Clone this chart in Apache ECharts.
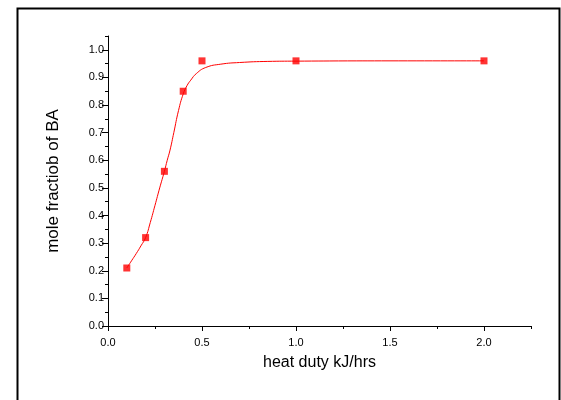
<!DOCTYPE html>
<html>
<head>
<meta charset="utf-8">
<script src="https://cdn.jsdelivr.net/npm/echarts@6/dist/echarts.min.js"></script>
<style>html,body{margin:0;padding:0;background:#fff;}#c{width:561px;height:400px;}</style>
</head>
<body>
<div id="c"></div>
<script>
// measured data points
var heatDuty = [0.1, 0.2, 0.3, 0.4, 0.5, 1.0, 2.0];
var moleFraction = [0.21, 0.32, 0.56, 0.85, 0.96, 0.96, 0.96];
// fitted curve
var fitX = [0.1, 0.125, 0.15, 0.175, 0.2, 0.225, 0.25, 0.275, 0.3, 0.315, 0.33, 0.35, 0.375, 0.4, 0.42, 0.44, 0.47, 0.52, 0.6, 0.7, 0.85, 1.0, 1.5, 2.0];
var fitY = [0.21, 0.236, 0.262, 0.29, 0.32, 0.375, 0.437, 0.50, 0.56, 0.60, 0.637, 0.70, 0.78, 0.84, 0.87, 0.89, 0.914, 0.936, 0.948, 0.954, 0.958, 0.959, 0.96, 0.96];
// tick labels
var xMajorTicks = [0, 0.5, 1.0, 1.5, 2.0];
var yMajorTicks = [0, 0.1, 0.2, 0.3, 0.4, 0.5, 0.6, 0.7, 0.8, 0.9, 1.0];
var xTitle = 'heat duty kJ/hrs';
var yTitle = 'mole fractiob of BA';

var FONT = 'Liberation Sans, Arial, sans-serif';
var chart = echarts.init(document.getElementById('c'), null, {renderer: 'canvas'});

function pairs(xs, ys) { return xs.map(function (x, i) { return [x, ys[i]]; }); }

var axisLineStyle = {color: '#000', width: 1};
chart.setOption({
  animation: false,
  backgroundColor: '#fff',
  graphic: [{
    type: 'rect', left: 15, top: 6, shape: {width: 542, height: 420},
    style: {fill: 'none', stroke: '#000', lineWidth: 2}, silent: true
  }],
  grid: {left: 108, right: 30, top: 36, bottom: 74, containLabel: false},
  xAxis: [{
    type: 'value', min: 0, max: 2.25, interval: 0.25,
    axisLine: {show: true, onZero: false, lineStyle: axisLineStyle},
    axisTick: {show: true, length: 3, lineStyle: axisLineStyle},
    axisLabel: {show: false}, splitLine: {show: false}
  }, {
    type: 'value', min: 0, max: 2.25, interval: 0.25, position: 'bottom',
    name: xTitle, nameLocation: 'middle', nameGap: 29,
    nameTextStyle: {fontFamily: FONT, fontSize: 16, color: '#000'},
    axisLine: {show: false, onZero: false},
    axisTick: {show: true, length: 5, customValues: xMajorTicks, lineStyle: axisLineStyle},
    axisLabel: {show: true, customValues: xMajorTicks, margin: 11,
      fontFamily: FONT, fontSize: 11, color: '#000',
      formatter: function (v) { return v.toFixed(1); }},
    splitLine: {show: false}
  }],
  yAxis: [{
    type: 'value', min: 0, max: 1.05, interval: 0.05,
    axisLine: {show: true, onZero: false, lineStyle: axisLineStyle},
    axisTick: {show: true, length: 3, lineStyle: axisLineStyle},
    axisLabel: {show: false}, splitLine: {show: false}
  }, {
    type: 'value', min: 0, max: 1.05, interval: 0.05, position: 'left',
    name: yTitle, nameLocation: 'middle', nameGap: 46, nameRotate: 90,
    nameTextStyle: {fontFamily: FONT, fontSize: 17, color: '#000'},
    axisLine: {show: false, onZero: false},
    axisTick: {show: true, length: 6, customValues: yMajorTicks, lineStyle: axisLineStyle},
    axisLabel: {show: true, customValues: yMajorTicks, margin: 4,
      fontFamily: FONT, fontSize: 11, color: '#000',
      formatter: function (v) { return v.toFixed(1); }},
    splitLine: {show: false}
  }],
  series: [{
    type: 'line', xAxisIndex: 0, yAxisIndex: 0,
    data: pairs(fitX, fitY), smooth: 0.5,
    showSymbol: false, symbol: 'none',
    lineStyle: {color: '#ff0000', width: 1}, z: 2
  }, {
    type: 'scatter', xAxisIndex: 0, yAxisIndex: 0,
    data: pairs(heatDuty, moleFraction),
    symbol: 'rect', symbolSize: 7,
    itemStyle: {color: '#ff0000'}, z: 3
  }]
});
</script>
</body>
</html>
